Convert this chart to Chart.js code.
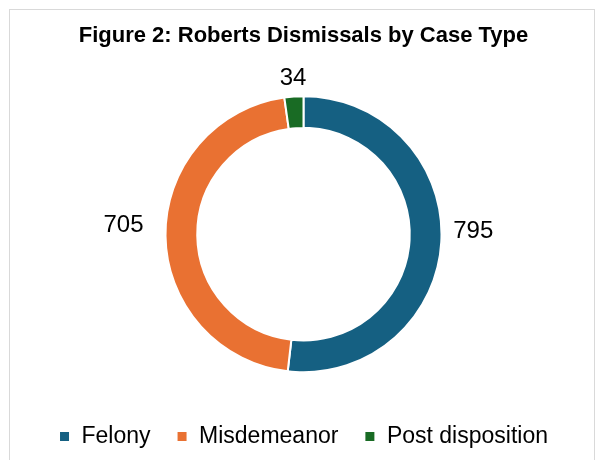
<!DOCTYPE html>
<html>
<head>
<meta charset="utf-8">
<script src="https://cdn.jsdelivr.net/npm/chart.js@4.4.1/dist/chart.umd.min.js"></script>
<style>
  html, body { margin: 0; padding: 0; background: #fff; }
  #wrap { width: 597px; height: 460px; }
</style>
</head>
<body>
<div id="wrap"><canvas id="chart"></canvas></div>
<script>
const caseTypes = ['Felony', 'Misdemeanor', 'Post disposition'];
const dismissals = [795, 705, 34];
const sliceColors = ['#156082', '#E97132', '#196B24'];

// outside-end value labels, roughly like Excel places them
const valueLabels = {
    id: 'valueLabels',
    afterDatasetsDraw(chart) {
        const ctx = chart.ctx;
        const meta = chart.getDatasetMeta(0);
        ctx.save();
        ctx.font = '24px "Liberation Sans", Arial, sans-serif';
        ctx.fillStyle = '#000';
        meta.data.forEach(function(arc, i) {
            const p = arc.getProps(['x', 'y', 'startAngle', 'endAngle', 'outerRadius'], true);
            const mid = (p.startAngle + p.endAngle) / 2;
            const c = Math.cos(mid), s = Math.sin(mid);
            const off = c < -0.3 ? 22 : 12;
            let x = p.x + (p.outerRadius + off) * c;
            let y = p.y + (p.outerRadius + off) * s;
            ctx.textAlign = c > 0.3 ? 'left' : (c < -0.3 ? 'right' : 'center');
            if (s < -0.7) {
                ctx.textBaseline = 'alphabetic';
            } else {
                ctx.textBaseline = 'middle';
                y -= 11;
            }
            ctx.fillText(String(dismissals[i]), x, y);
        });
        ctx.restore();
    }
};

const frame = {
    id: 'frame',
    beforeDraw(chart) {
        const ctx = chart.ctx;
        ctx.save();
        ctx.strokeStyle = '#d9d9d9';
        ctx.lineWidth = 1;
        ctx.strokeRect(9.5, 9.5, 585, 470);
        ctx.restore();
    }
};

const data = {
    labels: caseTypes,
    datasets: [{
        data: dismissals,
        backgroundColor: sliceColors,
        borderColor: '#ffffff',
        borderWidth: 2
    }]
};

const config = {
    type: 'doughnut',
    data: data,
    plugins: [frame, valueLabels],
    options: {
        responsive: true,
        maintainAspectRatio: false,
        animation: false,
        radius: 138,
        cutout: '77%',
        layout: {
            padding: { top: 23, left: 10, right: 0, bottom: 2 }
        },
        plugins: {
            title: {
                display: true,
                text: 'Figure 2: Roberts Dismissals by Case Type',
                color: '#000',
                font: { family: '"Liberation Sans", Arial, sans-serif', size: 22, weight: 'bold' },
                padding: { top: 0, bottom: 20 }
            },
            legend: {
                position: 'bottom',
                labels: {
                    color: '#000',
                    boxWidth: 11,
                    boxHeight: 11,
                    padding: 26,
                    font: { family: '"Liberation Sans", Arial, sans-serif', size: 23 }
                }
            },
            tooltip: { enabled: false }
        }
    }
};

new Chart(document.getElementById('chart'), config);
</script>
</body>
</html>
